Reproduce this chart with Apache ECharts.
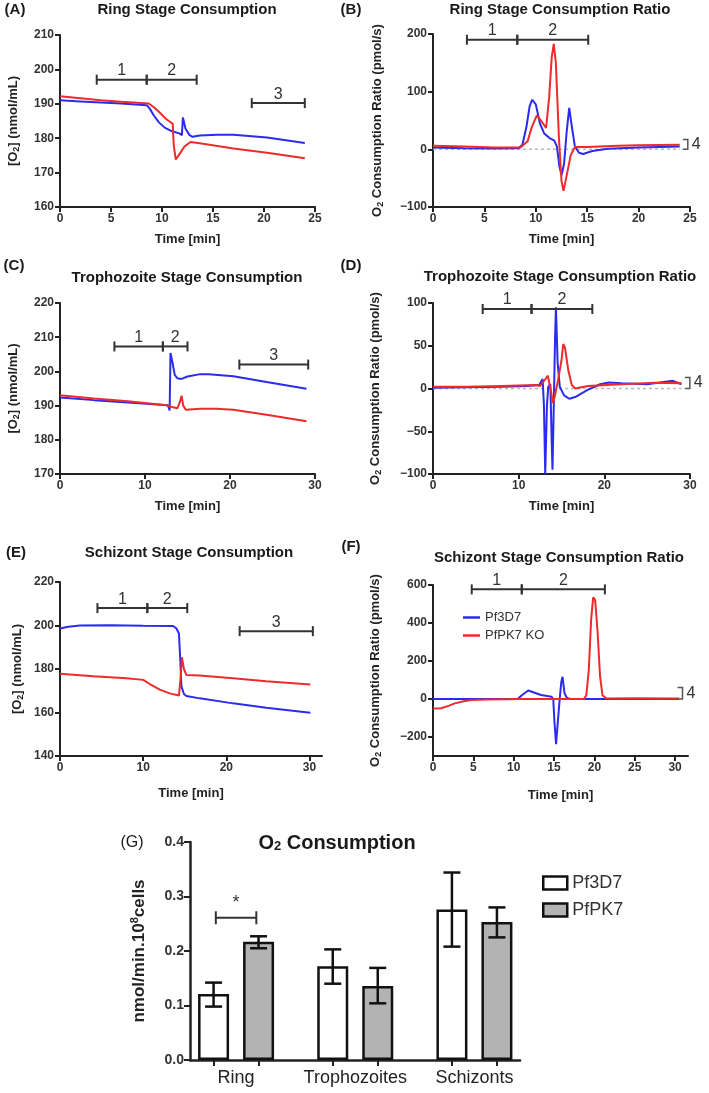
<!DOCTYPE html>
<html>
<head>
<meta charset="utf-8">
<script src="https://cdn.jsdelivr.net/npm/echarts@6/dist/echarts.min.js"></script>
<style>
html, body { margin: 0; padding: 0; background: #fff; }
#chart { width: 709px; height: 1093px; }
</style>
</head>
<body>
<div id="chart"></div>
<script>
// ---------- data ----------
// (A) ring stage [O2], nmol/mL vs time (min)
const ringO2_3D7 = [[0,191],[2,190.7],[4,190.4],[6,190.1],[8.5,189.6],[8.8,188.6],[9.2,186.6],[9.7,184.6],[10.3,183],[11,182],[11.7,181.4],[11.95,180.9],[12.05,186],[12.3,182.8],[12.7,180.9],[13,180.4],[13.7,180.8],[15.4,181],[17,181],[20.3,180.2],[24,178.6]];
const ringO2_PK7 = [[0,192.2],[2,191.6],[4,191],[6,190.6],[8.7,190.1],[9.2,189],[9.8,187.4],[10.4,185.6],[11.05,184.2],[11.15,178],[11.35,173.8],[11.7,175.3],[12.2,177.6],[12.8,178.9],[13.7,178.5],[17,177],[20.3,175.8],[24,174.2]];
// (B) ring stage consumption ratio, pmol/s
const ringRate_3D7 = [[0,3],[3,2],[6,1.5],[8.3,2],[8.7,8],[9.1,40],[9.4,75],[9.65,86],[10,78],[10.4,45],[10.8,28],[11.3,20],[11.8,15],[12.05,5],[12.3,-30],[12.5,-45],[12.75,-25],[13,30],[13.25,72],[13.5,40],[13.8,5],[14.2,-6],[14.6,-8],[15.5,-3],[17,1],[20,3],[22,4],[24,5]];
const ringRate_PK7 = [[0,6],[3,5],[6,3],[8.5,3],[9.2,14],[9.6,38],[10.1,59],[10.5,50],[11,37],[11.3,90],[11.55,160],[11.75,183],[11.95,150],[12.25,20],[12.5,-55],[12.7,-72],[12.95,-50],[13.4,-10],[13.8,4],[15,4],[18,6],[20,7],[24,8]];
// (C) trophozoite [O2]
const trophO2_3D7 = [[0,192.4],[4,191.6],[8,190.9],[12.7,190.1],[12.9,188.6],[13,205.4],[13.2,203],[13.5,199],[13.8,198],[14.3,197.8],[15,198.5],[16.5,199.2],[17.5,199.2],[20.4,198.6],[24.3,196.9],[29,194.9]];
const trophO2_PK7 = [[0,193],[4,192.1],[8,191.3],[12.5,190.1],[13.2,189.6],[13.8,189.2],[14.1,191],[14.3,192.9],[14.5,190],[14.8,188.8],[16.5,189.1],[18.4,189.1],[20.4,188.8],[24.3,187.3],[29,185.4]];
// (D) trophozoite consumption ratio
const trophRate_3D7 = [[0,1],[4,1.5],[8,2],[11,3],[12.4,4],[12.8,11],[12.95,-20],[13.1,-100],[13.3,-20],[13.45,2],[13.7,5],[13.85,-60],[13.95,-95],[14.1,-20],[14.25,60],[14.35,95],[14.55,30],[14.8,2],[15.3,-8],[15.9,-12],[16.6,-10],[18,-2],[19.5,5],[20.5,7],[22,6],[25,5],[28,9],[29,5]];
const trophRate_PK7 = [[0,2],[4,2],[8,3],[12,4],[12.5,3],[13.2,12],[13.4,15],[13.8,-5],[14,-17],[14.2,-10],[14.6,10],[15,33],[15.2,52],[15.4,48],[15.8,21],[16.2,4],[16.6,0],[18.1,3],[22,5],[25.9,6.6],[29,6]];
// (E) schizont [O2]
const schizO2_3D7 = [[0,198.6],[1,199.4],[2.4,200],[6,200.1],[10,199.9],[13.6,199.8],[14,198.6],[14.3,196.3],[14.45,185],[14.6,172],[14.9,168.5],[15.2,167.6],[16.8,166.5],[20.8,164.2],[24.8,162.2],[30.1,159.9]];
const schizO2_PK7 = [[0,177.8],[4,176.7],[8,175.8],[10,175],[10.8,173.1],[12,170.5],[13.2,168.8],[14.3,167.8],[14.5,176],[14.65,185.4],[14.9,180],[15.2,177.2],[15.4,176.8],[16.8,177],[20.8,175.7],[24.8,174.4],[30.1,172.9]];
// (F) schizont consumption ratio
const schizRate_3D7 = [[0,0],[10.5,0],[11,20],[11.8,45],[13.4,21],[14.7,12],[14.9,0],[15.05,-120],[15.25,-238],[15.45,-130],[15.7,0],[15.9,90],[16.05,117],[16.3,30],[16.6,5],[17,0],[30.5,0]];
const schizRate_PK7 = [[0,-50],[1,-49],[2,-35],[2.7,-23],[3.8,-12],[4.8,-5],[6.8,-2],[11,0],[18.7,0],[19,20],[19.3,150],[19.6,420],[19.85,535],[20.1,520],[20.4,350],[20.7,120],[21,20],[21.5,3],[25,4],[30.5,3]];

// reference zero lines
const zeroB = [[0,0],[24,0]];
const zeroD = [[0,0],[29,0]];

// interval brackets: [start, end, level, label]
const ringBrackets = [[3.6,8.5,197,'1'],[8.5,13.4,197,'2'],[18.8,24,190.2,'3']];
const ringRateBrackets = [[3.3,8.2,190,'1'],[8.2,15.1,190,'2']];
const trophBrackets = [[6.4,12.1,207.3,'1'],[12.1,15,207.3,'2'],[21.1,29.2,202,'3']];
const trophRateBrackets = [[5.8,11.5,93,'1'],[11.5,18.6,93,'2']];
const schizBrackets = [[4.5,10.5,208,'1'],[10.5,15.3,208,'2'],[21.6,30.4,197.4,'3']];
const schizRateBrackets = [[4.8,11,577,'1'],[11,21.3,577,'2']];
// "]4" markers: [time, low, high]
const ringMark4 = [[24.3,0,17]];
const trophMark4 = [[29.4,0,13]];
const schizMark4 = [[30.3,0,60]];

// tick labels for axes that end past the last label
const schizTimeTicks = [0,10,20,30];
const schizRateTimeTicks = [0,5,10,15,20,25,30];
const schizRateTicks = [-200,0,200,400,600];

// (G) O2 consumption bars
const stages = ['Ring','Trophozoites','Schizonts'];
const stagePos = [1,2,3];
const mean3D7 = [0.121,0.172,0.276];
const lo3D7   = [0.098,0.140,0.208];
const hi3D7   = [0.142,0.203,0.344];
const meanPK7 = [0.217,0.136,0.253];
const loPK7   = [0.205,0.104,0.225];
const hiPK7   = [0.227,0.169,0.280];
const sigBracket = [[0.83,1.17,0.261,'*']];

// ---------- styling ----------
const FONT = '"Liberation Sans", Arial, Helvetica, sans-serif';
const BLUE = '#2b2bee';
const RED = '#ee2b2b';
const INK = '#222';
const BAR_W = 31, BAR_GAP = 14, GROUP_PX = 119;
const BAR_SHIFT = (BAR_W + BAR_GAP) / 2;

const grids = [
  { left: 60,  top: 35,  width: 255, height: 172 },
  { left: 433, top: 34,  width: 257, height: 173 },
  { left: 60,  top: 303, width: 255, height: 171 },
  { left: 433, top: 303, width: 257, height: 171 },
  { left: 60,  top: 582, width: 262, height: 174 },
  { left: 433, top: 585, width: 255, height: 171 },
  { left: 190, top: 842, width: 330, height: 218 }
].map(g => Object.assign({ containLabel: false, outerBoundsMode: 'none' }, g));

const subRich = {
  sub: { fontFamily: FONT, fontSize: 9, fontWeight: 'bold', color: INK, verticalAlign: 'bottom', lineHeight: 9 }
};
const minus = v => (v < 0 ? '\u2212' + Math.abs(v) : String(v));

function timeAxis(i, max, interval, gap, ticks) {
  const ax = {
    type: 'value', gridIndex: i, min: 0, max: max, interval: interval,
    name: 'Time [min]', nameLocation: 'middle', nameGap: gap,
    nameTextStyle: { fontFamily: FONT, fontSize: 13, fontWeight: 'bold', color: INK },
    axisLine: { show: true, onZero: false, lineStyle: { color: INK, width: 2 } },
    axisTick: { show: true, length: 5, lineStyle: { color: INK, width: 2 } },
    axisLabel: { fontFamily: FONT, fontSize: 12, fontWeight: 'bold', color: '#333', margin: 6 },
    splitLine: { show: false }
  };
  if (ticks) {
    ax.axisTick.customValues = ticks;
    ax.axisLabel.customValues = ticks;
  }
  return ax;
}

function valueAxis(i, min, max, interval, name, gap, ticks) {
  const ax = {
    type: 'value', gridIndex: i, min: min, max: max, interval: interval,
    name: name, nameLocation: 'middle', nameGap: gap,
    nameTextStyle: { fontFamily: FONT, fontSize: 13, fontWeight: 'bold', color: INK, lineHeight: 16, rich: subRich },
    axisLine: { show: true, onZero: false, lineStyle: { color: INK, width: 2 } },
    axisTick: { show: true, length: 5, lineStyle: { color: INK, width: 2 } },
    axisLabel: { fontFamily: FONT, fontSize: 12, fontWeight: 'bold', color: '#333', margin: 6, formatter: minus },
    splitLine: { show: false }
  };
  if (ticks) {
    ax.axisTick.customValues = ticks;
    ax.axisLabel.customValues = ticks;
  }
  return ax;
}

const O2_NAME = '[O{sub|2}] (nmol/mL)';
const RATE_NAME = 'O{sub|2} Consumption Ratio (pmol/s)';

const xAxes = [
  timeAxis(0, 25, 5, 26),
  timeAxis(1, 25, 5, 26),
  timeAxis(2, 30, 10, 26),
  timeAxis(3, 30, 10, 26),
  timeAxis(4, 31.5, 10, 31, schizTimeTicks),
  timeAxis(5, 31.6, 5, 33, schizRateTimeTicks),
  {
    type: 'value', gridIndex: 6, min: 1 - 46 / GROUP_PX, max: 3 + 45.5 / GROUP_PX,
    axisLine: { show: true, onZero: false, lineStyle: { color: INK, width: 2.5 } },
    axisTick: {
      show: true, length: 6, lineStyle: { color: INK, width: 2 },
      customValues: stagePos.flatMap(p => [p - BAR_SHIFT / GROUP_PX, p + BAR_SHIFT / GROUP_PX])
    },
    axisLabel: {
      customValues: stagePos, margin: 9,
      fontFamily: FONT, fontSize: 18, color: INK,
      formatter: v => stages[stagePos.indexOf(Math.round(v))]
    },
    splitLine: { show: false }
  }
];

const yAxes = [
  valueAxis(0, 160, 210, 10, O2_NAME, 39),
  valueAxis(1, -100, 200, 100, RATE_NAME, 48),
  valueAxis(2, 170, 220, 10, O2_NAME, 39),
  valueAxis(3, -100, 100, 50, RATE_NAME, 50),
  valueAxis(4, 140, 220, 20, O2_NAME, 35),
  valueAxis(5, -300, 600, 100, RATE_NAME, 50, schizRateTicks),
  {
    type: 'value', gridIndex: 6, min: 0, max: 0.4, interval: 0.1,
    name: 'nmol/min.10{sup|8}cells', nameLocation: 'middle', nameGap: 41,
    nameTextStyle: {
      fontFamily: FONT, fontSize: 17, fontWeight: 'bold', color: INK, lineHeight: 20,
      rich: { sup: { fontFamily: FONT, fontSize: 11, fontWeight: 'bold', color: INK, verticalAlign: 'top', lineHeight: 11 } }
    },
    axisLine: { show: true, onZero: false, lineStyle: { color: INK, width: 2.5 } },
    axisTick: { show: true, length: 6, lineStyle: { color: INK, width: 2 } },
    axisLabel: { fontFamily: FONT, fontSize: 14, fontWeight: 'bold', color: '#333', margin: 6, formatter: v => v.toFixed(1) },
    splitLine: { show: false }
  }
];

function lineSeries(i, data, color, name) {
  return {
    type: 'line', name: name, xAxisIndex: i, yAxisIndex: i, data: data,
    symbol: 'none', showSymbol: false, silent: true, z: 3,
    lineStyle: { color: color, width: 2 }, itemStyle: { color: color }
  };
}

function zeroSeries(i, data) {
  return {
    type: 'line', xAxisIndex: i, yAxisIndex: i, data: data, symbol: 'none', silent: true, z: 2,
    lineStyle: { color: '#b8b8b8', width: 1.5, type: [3, 3] }
  };
}

// horizontal interval bracket with end caps and a centred label above
function bracketSeries(i, rows, cap, lift, font) {
  return {
    type: 'custom', xAxisIndex: i, yAxisIndex: i, clip: false, silent: true, z: 4,
    encode: { x: [0, 1], y: 2 },
    data: rows.map(r => [r[0], r[1], r[2]]),
    renderItem: function (params, api) {
      const a = api.coord([api.value(0), api.value(2)]);
      const b = api.coord([api.value(1), api.value(2)]);
      const st = { stroke: '#333', lineWidth: 2 };
      return {
        type: 'group',
        children: [
          { type: 'line', shape: { x1: a[0], y1: a[1], x2: b[0], y2: b[1] }, style: st },
          { type: 'line', shape: { x1: a[0], y1: a[1] - cap, x2: a[0], y2: a[1] + cap }, style: st },
          { type: 'line', shape: { x1: b[0], y1: b[1] - cap, x2: b[0], y2: b[1] + cap }, style: st },
          {
            type: 'text', x: (a[0] + b[0]) / 2, y: a[1] - lift,
            style: { text: rows[params.dataIndex][3], align: 'center', verticalAlign: 'middle', font: font, fill: '#333' }
          }
        ]
      };
    }
  };
}

// "]4" marker at the right edge of the ratio plots
function markSeries(i, rows) {
  return {
    type: 'custom', xAxisIndex: i, yAxisIndex: i, clip: false, silent: true, z: 4,
    encode: { x: 0, y: [1, 2] },
    data: rows,
    renderItem: function (params, api) {
      const top = api.coord([api.value(0), api.value(2)]);
      const bot = api.coord([api.value(0), api.value(1)]);
      const xr = top[0] + 5;
      return {
        type: 'group',
        children: [
          {
            type: 'polyline',
            shape: { points: [[top[0], top[1]], [xr, top[1]], [xr, bot[1]], [top[0], bot[1]]] },
            style: { stroke: '#555', lineWidth: 1.5, fill: null }
          },
          {
            type: 'text', x: xr + 4, y: (top[1] + bot[1]) / 2,
            style: { text: '4', align: 'left', verticalAlign: 'middle', font: '16px ' + FONT, fill: '#333' }
          }
        ]
      };
    }
  };
}

function errorSeries(lo, hi, shift) {
  return {
    type: 'custom', xAxisIndex: 6, yAxisIndex: 6, silent: true, clip: false, z: 5,
    encode: { x: 0, y: [1, 2] },
    data: stagePos.map((p, k) => [p, lo[k], hi[k]]),
    renderItem: function (params, api) {
      const l = api.coord([api.value(0), api.value(1)]);
      const h = api.coord([api.value(0), api.value(2)]);
      const x = l[0] + shift;
      const st = { stroke: '#111', lineWidth: 2.5 };
      return {
        type: 'group',
        children: [
          { type: 'line', shape: { x1: x, y1: h[1], x2: x, y2: l[1] }, style: st },
          { type: 'line', shape: { x1: x - 8.5, y1: h[1], x2: x + 8.5, y2: h[1] }, style: st },
          { type: 'line', shape: { x1: x - 8.5, y1: l[1], x2: x + 8.5, y2: l[1] }, style: st }
        ]
      };
    }
  };
}

const BF = '16px ' + FONT;
const series = [
  lineSeries(0, ringO2_3D7, BLUE), lineSeries(0, ringO2_PK7, RED),
  bracketSeries(0, ringBrackets, 5, 9, BF),

  zeroSeries(1, zeroB),
  lineSeries(1, ringRate_3D7, BLUE), lineSeries(1, ringRate_PK7, RED),
  bracketSeries(1, ringRateBrackets, 5, 9, BF), markSeries(1, ringMark4),

  lineSeries(2, trophO2_3D7, BLUE), lineSeries(2, trophO2_PK7, RED),
  bracketSeries(2, trophBrackets, 5, 9, BF),

  zeroSeries(3, zeroD),
  lineSeries(3, trophRate_3D7, BLUE), lineSeries(3, trophRate_PK7, RED),
  bracketSeries(3, trophRateBrackets, 5, 9, BF), markSeries(3, trophMark4),

  lineSeries(4, schizO2_3D7, BLUE), lineSeries(4, schizO2_PK7, RED),
  bracketSeries(4, schizBrackets, 5, 9, BF),

  lineSeries(5, schizRate_3D7, BLUE, 'Pf3D7'), lineSeries(5, schizRate_PK7, RED, 'PfPK7 KO'),
  bracketSeries(5, schizRateBrackets, 5, 9, BF), markSeries(5, schizMark4),

  {
    type: 'bar', name: 'Pf3D7', xAxisIndex: 6, yAxisIndex: 6, barWidth: BAR_W,
    data: stagePos.map((p, k) => [p, mean3D7[k]]), silent: true,
    itemStyle: { color: '#fff', borderColor: '#111', borderWidth: 2.5 }
  },
  {
    type: 'bar', name: 'PfPK7', xAxisIndex: 6, yAxisIndex: 6, barWidth: BAR_W,
    barGap: (BAR_GAP / BAR_W * 100) + '%',
    data: stagePos.map((p, k) => [p, meanPK7[k]]), silent: true,
    itemStyle: { color: '#b3b3b3', borderColor: '#111', borderWidth: 2.5 }
  },
  errorSeries(lo3D7, hi3D7, -BAR_SHIFT),
  errorSeries(loPK7, hiPK7, BAR_SHIFT),
  bracketSeries(6, sigBracket, 6.5, 15, '18px ' + FONT)
];

function heading(text, cx, cy, size, weight, rich) {
  return {
    text: text, left: cx, top: cy, padding: 0,
    textAlign: 'center', textVerticalAlign: 'middle',
    textStyle: { fontFamily: FONT, fontSize: size, fontWeight: weight, color: '#1a1a1a', rich: rich }
  };
}

const titles = [
  heading('Ring Stage Consumption', 187, 10, 15, 'bold'),
  heading('Ring Stage Consumption Ratio', 560, 10, 15, 'bold'),
  heading('Trophozoite Stage Consumption', 187, 278, 15, 'bold'),
  heading('Trophozoite Stage Consumption Ratio', 560, 277, 15, 'bold'),
  heading('Schizont Stage Consumption', 189, 553, 15, 'bold'),
  heading('Schizont Stage Consumption Ratio', 559, 558, 15, 'bold'),
  heading('O{s|2} Consumption', 337, 843, 20, 'bold',
    { s: { fontFamily: FONT, fontSize: 13, fontWeight: 'bold', color: '#1a1a1a', verticalAlign: 'bottom', lineHeight: 12 } }),
  heading('(A)', 15, 10, 15, 'bold'),
  heading('(B)', 351, 10, 15, 'bold'),
  heading('(C)', 14, 266, 15, 'bold'),
  heading('(D)', 351, 266, 15, 'bold'),
  heading('(E)', 16, 553, 15, 'bold'),
  heading('(F)', 351, 547, 15, 'bold'),
  heading('(G)', 132, 843, 16, 'normal')
];

const legends = [
  {
    orient: 'vertical', left: 463, top: 611, itemGap: 5, itemWidth: 17, itemHeight: 2.5,
    selectedMode: false, padding: 0,
    textStyle: { fontFamily: FONT, fontSize: 13, color: '#333' },
    data: [
      { name: 'Pf3D7', icon: 'rect', itemStyle: { color: BLUE, borderWidth: 0 } },
      { name: 'PfPK7 KO', icon: 'rect', itemStyle: { color: RED, borderWidth: 0 } }
    ]
  },
  {
    orient: 'vertical', left: 542, top: 874, itemGap: 9, itemWidth: 24, itemHeight: 13,
    selectedMode: false, padding: 0,
    textStyle: { fontFamily: FONT, fontSize: 18, color: '#333' },
    data: [
      { name: 'Pf3D7', icon: 'rect', itemStyle: { color: '#fff', borderColor: '#111', borderWidth: 2.5 } },
      { name: 'PfPK7', icon: 'rect', itemStyle: { color: '#b3b3b3', borderColor: '#111', borderWidth: 2.5 } }
    ]
  }
];

const chart = echarts.init(document.getElementById('chart'), null, { renderer: 'canvas' });
chart.setOption({
  backgroundColor: '#fff',
  animation: false,
  title: titles,
  legend: legends,
  grid: grids,
  xAxis: xAxes,
  yAxis: yAxes,
  series: series
});
</script>
</body>
</html>
